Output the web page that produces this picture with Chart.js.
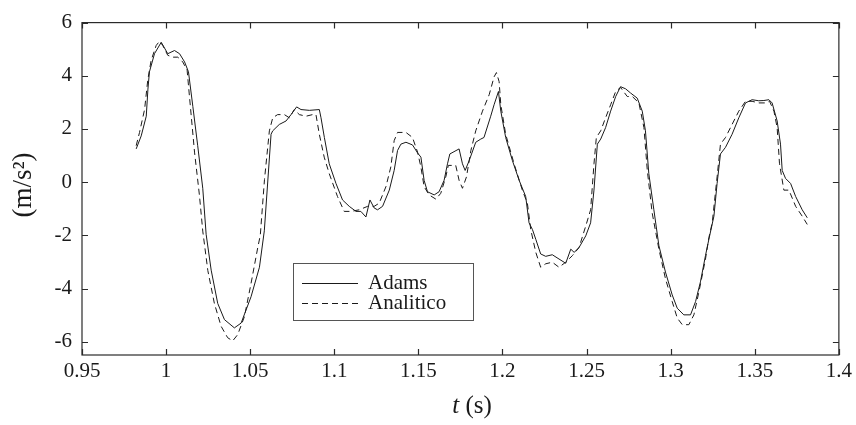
<!DOCTYPE html>
<html>
<head>
<meta charset="utf-8">
<script src="https://cdn.jsdelivr.net/npm/chart.js@4/dist/chart.umd.min.js"></script>
<style>
  html, body { margin: 0; padding: 0; background: #fff; }
  #wrap { width: 856px; height: 425px; position: relative; }
</style>
</head>
<body>
<div id="wrap"><canvas id="c" width="856" height="425"></canvas></div>
<script>
// ---- Data ----
const adamsT = [0.9822,0.9852,0.9882,0.9892,0.9901,0.9931,0.9971,1.0010,1.0050,1.0080,1.0110,1.0133,1.0159,1.0188,1.0218,1.0238,1.0268,1.0307,1.0347,1.0406,1.0446,1.0505,1.0555,1.0584,1.0624,1.0634,1.0673,1.0713,1.0743,1.0776,1.0802,1.0852,1.0911,1.0921,1.0941,1.0970,1.1010,1.1049,1.1089,1.1129,1.1158,1.1188,1.1212,1.1237,1.1257,1.1287,1.1327,1.1356,1.1376,1.1396,1.1426,1.1465,1.1495,1.1515,1.1534,1.1554,1.1594,1.1623,1.1653,1.1673,1.1687,1.1742,1.1762,1.1778,1.1802,1.1841,1.1871,1.1890,1.1930,1.1950,1.1976,1.1990,1.2019,1.2059,1.2099,1.2138,1.2158,1.2178,1.2198,1.2227,1.2257,1.2296,1.2336,1.2366,1.2376,1.2406,1.2426,1.2455,1.2495,1.2524,1.2544,1.2564,1.2584,1.2613,1.2643,1.2673,1.2702,1.2732,1.2762,1.2801,1.2831,1.2850,1.2870,1.2900,1.2930,1.2969,1.3009,1.3039,1.3078,1.3118,1.3148,1.3177,1.3207,1.3227,1.3257,1.3276,1.3296,1.3326,1.3365,1.3405,1.3445,1.3484,1.3524,1.3554,1.3584,1.3603,1.3633,1.3653,1.3663,1.3683,1.3713,1.3743,1.3782,1.3812];
const adamsV = [1.25,1.74,2.48,3.50,4.15,4.83,5.26,4.83,4.95,4.83,4.52,4.15,2.85,1.37,-0.23,-1.96,-3.31,-4.56,-5.17,-5.48,-5.30,-4.31,-3.20,-1.83,1.80,1.93,2.17,2.30,2.54,2.83,2.73,2.70,2.73,2.42,1.68,0.69,-0.05,-0.67,-0.91,-1.10,-1.10,-1.31,-0.67,-0.97,-1.04,-0.91,-0.30,0.44,1.19,1.43,1.50,1.40,1.10,0.94,0.07,-0.36,-0.48,-0.36,0.07,0.69,1.06,1.25,0.69,0.44,0.81,1.50,1.62,1.68,2.48,2.91,3.41,2.67,1.68,0.81,0.07,-0.54,-1.53,-1.78,-2.15,-2.70,-2.79,-2.73,-2.89,-3.01,-3.05,-2.52,-2.64,-2.46,-2.02,-1.53,-0.30,1.43,1.62,2.05,2.67,3.22,3.59,3.51,3.35,3.16,2.67,1.93,0.32,-1.04,-2.39,-3.38,-4.24,-4.74,-4.99,-4.99,-4.49,-3.75,-2.76,-2.15,-1.28,-0.05,1.06,1.31,1.80,2.42,2.98,3.10,3.06,3.07,3.10,2.98,2.30,1.43,0.44,0.14,-0.05,-0.54,-1.04,-1.34];

const analT = [0.9822,0.9842,0.9872,0.9891,0.9911,0.9941,0.9961,0.9980,1.0010,1.0040,1.0070,1.0099,1.0125,1.0139,1.0169,1.0198,1.0218,1.0248,1.0287,1.0327,1.0366,1.0396,1.0426,1.0466,1.0505,1.0545,1.0560,1.0585,1.0614,1.0634,1.0663,1.0703,1.0733,1.0762,1.0792,1.0832,1.0871,1.0891,1.0911,1.0940,1.0970,1.1019,1.1059,1.1099,1.1148,1.1198,1.1237,1.1267,1.1307,1.1336,1.1356,1.1376,1.1426,1.1465,1.1495,1.1515,1.1534,1.1564,1.1604,1.1633,1.1663,1.1678,1.1722,1.1742,1.1762,1.1786,1.1812,1.1841,1.1881,1.1921,1.1950,1.1964,1.1980,1.1990,1.2019,1.2069,1.2118,1.2148,1.2168,1.2198,1.2227,1.2257,1.2296,1.2336,1.2376,1.2416,1.2455,1.2495,1.2524,1.2544,1.2558,1.2584,1.2613,1.2643,1.2673,1.2702,1.2742,1.2772,1.2811,1.2841,1.2861,1.2890,1.2930,1.2969,1.3009,1.3039,1.3069,1.3108,1.3138,1.3168,1.3207,1.3227,1.3247,1.3276,1.3296,1.3326,1.3365,1.3405,1.3445,1.3484,1.3524,1.3564,1.3588,1.3614,1.3633,1.3647,1.3673,1.3703,1.3743,1.3782,1.3812];
const analV = [1.37,1.87,2.73,3.84,4.58,5.14,5.30,5.14,4.77,4.70,4.70,4.52,4.21,3.22,1.13,-0.48,-1.84,-3.32,-4.56,-5.42,-5.85,-5.97,-5.73,-5.05,-3.81,-2.46,-2.00,0.10,1.93,2.42,2.54,2.54,2.42,2.73,2.54,2.48,2.54,2.54,1.80,0.94,0.32,-0.54,-1.10,-1.10,-1.04,-0.91,-0.91,-0.79,-0.17,0.57,1.56,1.87,1.87,1.68,1.13,0.57,-0.17,-0.48,-0.64,-0.42,0.20,0.63,0.63,0.07,-0.23,0.20,1.19,1.93,2.67,3.29,3.96,4.12,3.78,2.91,1.80,0.69,-0.30,-0.79,-1.78,-2.64,-3.20,-3.07,-3.01,-3.20,-3.01,-2.76,-2.46,-1.65,-1.04,0.69,1.68,1.93,2.42,2.91,3.41,3.56,3.22,3.22,2.98,2.05,0.44,-1.16,-2.52,-3.63,-4.49,-5.11,-5.36,-5.36,-4.99,-4.12,-2.89,-2.09,-1.53,0.20,1.43,1.68,2.17,2.67,3.04,3.04,2.98,2.98,3.04,2.67,2.05,0.69,-0.30,-0.30,-0.91,-1.28,-1.59];

const seriesNames = ['Adams', 'Analitico'];
const xTicks = [0.95,1.0,1.05,1.1,1.15,1.2,1.25,1.3,1.35,1.4];
const yTicks = [-6,-4,-2,0,2,4,6];
const xTitleItalic = 't';
const xTitleRest = ' (s)';
const yTitle = '(m/s²)';

// ---- Chart ----
const SERIF = '"Liberation Serif", "Times New Roman", serif';
const ink = '#1a1a1a';

const framePlugin = {
  id: 'frame',
  afterDraw(chart) {
    const ctx = chart.ctx;
    const a = chart.chartArea;
    const xs = chart.scales.x, ys = chart.scales.y;
    ctx.save();
    ctx.strokeStyle = '#2a2a2a';
    ctx.lineWidth = 1.2;
    ctx.setLineDash([]);
    ctx.strokeRect(a.left, a.top, a.right - a.left, a.bottom - a.top);
    const tl = 6;
    ctx.beginPath();
    xTicks.forEach(v => {
      const px = Math.round(xs.getPixelForValue(v)) + 0.5;
      ctx.moveTo(px, a.bottom); ctx.lineTo(px, a.bottom - tl);
      ctx.moveTo(px, a.top); ctx.lineTo(px, a.top + tl);
    });
    yTicks.forEach(v => {
      const py = Math.round(ys.getPixelForValue(v)) + 0.5;
      ctx.moveTo(a.left, py); ctx.lineTo(a.left + tl, py);
      ctx.moveTo(a.right, py); ctx.lineTo(a.right - tl, py);
    });
    ctx.stroke();

    // Legend box
    const lx = 293.5, ly = 263.5, lw = 180, lh = 57;
    ctx.fillStyle = '#fff';
    ctx.fillRect(lx, ly, lw, lh);
    ctx.strokeStyle = '#555';
    ctx.lineWidth = 1;
    ctx.strokeRect(lx, ly, lw, lh);
    const ds = chart.data.datasets;
    const rows = [283, 303];
    ds.forEach((d, i) => {
      ctx.beginPath();
      ctx.strokeStyle = d.borderColor;
      ctx.lineWidth = d.borderWidth;
      ctx.setLineDash(d.borderDash || []);
      ctx.moveTo(302, rows[i] + 0.5);
      ctx.lineTo(358, rows[i] + 0.5);
      ctx.stroke();
      ctx.setLineDash([]);
      ctx.fillStyle = ink;
      ctx.font = '21px ' + SERIF;
      ctx.textAlign = 'left';
      ctx.textBaseline = 'middle';
      ctx.fillText(d.label, 368, rows[i]);
    });

    // Axis titles
    ctx.fillStyle = ink;
    ctx.textBaseline = 'alphabetic';
    ctx.font = 'italic 25px ' + SERIF;
    const w1 = ctx.measureText(xTitleItalic).width;
    ctx.font = '25px ' + SERIF;
    const w2 = ctx.measureText(xTitleRest).width;
    const cx = 472;
    let sx = cx - (w1 + w2) / 2;
    ctx.font = 'italic 25px ' + SERIF;
    ctx.textAlign = 'left';
    ctx.fillText(xTitleItalic, sx, 413);
    ctx.font = '25px ' + SERIF;
    ctx.fillText(xTitleRest, sx + w1, 413);

    ctx.save();
    ctx.translate(24, 185);
    ctx.rotate(-Math.PI / 2);
    ctx.font = '27px ' + SERIF;
    ctx.textAlign = 'center';
    ctx.textBaseline = 'middle';
    ctx.fillText(yTitle, 0, 0);
    ctx.restore();
    ctx.restore();
  }
};

const toPts = (ts, vs) => ts.map((t, i) => ({ x: t, y: vs[i] }));

function build() {
  new Chart(document.getElementById('c'), {
    type: 'scatter',
    data: {
      datasets: [
        { label: seriesNames[0], data: toPts(adamsT, adamsV), showLine: true,
          borderColor: '#1a1a1a', borderWidth: 1, pointRadius: 0, tension: 0 },
        { label: seriesNames[1], data: toPts(analT, analV), showLine: true,
          borderColor: '#1a1a1a', borderWidth: 1, borderDash: [6, 4], pointRadius: 0, tension: 0 }
      ]
    },
    options: {
      responsive: false,
      animation: false,
      events: [],
      layout: { padding: { top: 16, right: 16, left: 0, bottom: 0 } },
      plugins: { legend: { display: false }, tooltip: { enabled: false } },
      scales: {
        x: {
          type: 'linear', min: 0.95, max: 1.4,
          afterBuildTicks: s => { s.ticks = xTicks.map(v => ({ value: v })); },
          afterFit: s => { s.height = 70; },
          grid: { display: false, drawTicks: false },
          border: { display: false },
          ticks: { color: ink, font: { family: SERIF, size: 21 }, padding: 4,
                   maxRotation: 0, autoSkip: false,
                   callback: v => String(+(+v).toFixed(2)) }
        },
        y: {
          type: 'linear', min: -6.5, max: 6,
          afterBuildTicks: s => { s.ticks = yTicks.map(v => ({ value: v })); },
          afterFit: s => { s.width = 82; },
          grid: { display: false, drawTicks: false },
          border: { display: false },
          ticks: { color: ink, font: { family: SERIF, size: 21 }, padding: 10,
                   autoSkip: false, callback: v => String(v) }
        }
      }
    },
    plugins: [framePlugin]
  });
}

const fontLoads = document.fonts && document.fonts.load
  ? Promise.all([
      document.fonts.load('21px "Liberation Serif"'),
      document.fonts.load('italic 25px "Liberation Serif"')
    ]).catch(() => null)
  : Promise.resolve();
fontLoads.then(build, build);
</script>
</body>
</html>
